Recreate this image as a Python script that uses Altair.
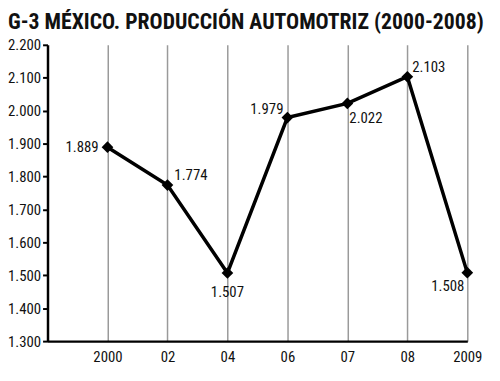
import altair as alt
import pandas as pd

years = ["2000", "02", "04", "06", "07", "08", "2009"]
values = [1889, 1774, 1507, 1979, 2022, 2103, 1508]
labels = ["1.889", "1.774", "1.507", "1.979", "2.022", "2.103", "1.508"]
y_ticks = [1300, 1400, 1500, 1600, 1700, 1800, 1900, 2000, 2100, 2200]
idx = list(range(1, len(years) + 1))

df = pd.DataFrame({"i": idx, "year": years, "v": values, "lab": labels})

FONT = "Roboto Condensed"
label_expr = "[" + ",".join("'%s'" % y for y in [""] + years) + "][datum.value]"

x = alt.X("i:Q", scale=alt.Scale(domain=[0, 7], nice=False, zero=False),
          axis=alt.Axis(values=idx, labelExpr=label_expr, grid=True, gridColor="#9a9a9a",
                        gridWidth=1.5, ticks=False, domainColor="black", domainWidth=2.5,
                        labelFont=FONT, labelFontSize=15, labelColor="#111", labelPadding=9,
                        title=None, labelFlush=False, labelOverlap=False, labelBound=False))
y = alt.Y("v:Q", scale=alt.Scale(domain=[1300, 2200], nice=False, zero=False),
          axis=alt.Axis(values=y_ticks,
                        labelExpr="replace(format(datum.value, ','), ',', '.')",
                        grid=False, tickColor="black", tickWidth=2, tickSize=5,
                        domainColor="black", domainWidth=2.5,
                        labelFont=FONT, labelFontSize=15, labelColor="#111", labelPadding=2,
                        title=None, labelOverlap=False, labelBound=False, labelFlush=False))

base = alt.Chart(df)
line = base.mark_line(color="black", strokeWidth=3.5).encode(x=x, y=y)
pts = base.mark_point(shape="diamond", filled=True, color="black", size=140, opacity=1).encode(x=x, y=y)

# (align, dx, dy) per point
offs = [("right", -9, 0), ("left", 7, -10), ("center", 0, 19), ("right", -4, -9),
        ("left", 2, 15), ("left", 5, -10), ("right", -3, 14)]
texts = []
for k, (al, dx, dy) in enumerate(offs):
    texts.append(
        base.transform_filter(alt.datum.i == idx[k]).mark_text(
            align=al, baseline="middle", dx=dx, dy=dy, fontSize=15, color="#111", font=FONT
        ).encode(x=x, y=y, text="lab:N")
    )

chart = alt.layer(line, pts, *texts).properties(
    width=425, height=300,
    title=alt.TitleParams("G-3 MÉXICO. PRODUCCIÓN AUTOMOTRIZ (2000-2008)", anchor="start",
                          frame="group", dx=-40, fontSize=22, fontWeight="bold", color="#111",
                          font=FONT, offset=4),
    autosize=alt.AutoSizeParams(type="none"),
    padding={"left": 40, "top": 35, "right": 25, "bottom": 30},
).configure_view(stroke=None)

chart.save("out.html", embed_options={"renderer": "svg", "actions": False})
